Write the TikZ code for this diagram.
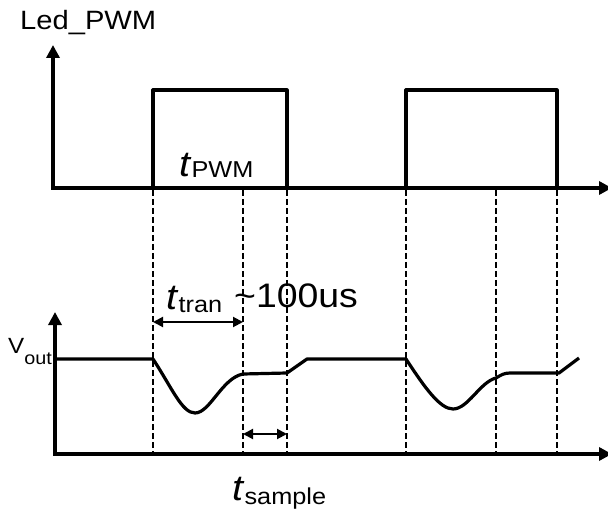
\documentclass[tikz,border=0pt]{standalone}
\usepackage{fontspec}
\setmainfont[FakeStretch=1.1]{Liberation Sans}
\usetikzlibrary{arrows.meta}
\newcommand{\fsz}[1]{\fontsize{#1}{#1}\selectfont}

\begin{document}
\begin{tikzpicture}[x=1pt, y=-1pt,
		axis/.style={line width=4pt, {Triangle[length=13pt,width=13pt]}-{Triangle[length=13pt,width=13pt]}},
		wave/.style={line width=3.2pt, line join=round},
		guide/.style={line width=2pt, dash pattern=on 6pt off 3pt},
		dimline/.style={line width=2pt, {Triangle[length=10pt,width=10pt]}-{Triangle[length=10pt,width=10pt]}},
		lbl/.style={inner sep=0pt, anchor=base west},
	]
	\useasboundingbox (0,0) rectangle (608,513);

	% --- Punti di riferimento ---
	\coordinate (o1) at (53,188);
	\coordinate (o2) at (55,454);
	\coordinate (rise1) at (153,188);
	\coordinate (samp1) at (243,188);
	\coordinate (fall1) at (287,188);
	\coordinate (rise2) at (406,188);
	\coordinate (samp2) at (496,188);
	\coordinate (fall2) at (557,188);
	\coordinate (lowend) at (0,452);
	\coordinate (tranrow) at (0,322);
	\coordinate (samprow) at (0,434);

	% --- Assi ---
	\draw [axis] (53,45) -- (o1) -- (612,188);
	\draw [axis] (55,312) -- (o2) -- (612,454);

	% --- Impulsi PWM ---
	\draw [wave] (rise1) -- (153,90) -- (287,90) -- (fall1);
	\draw [wave] (rise2) -- (406,90) -- (557,90) -- (fall2);

	% --- Linee guida tratteggiate ---
	\draw [guide] (rise1) ++(0,2) -- (rise1 |- lowend);
	\draw [guide] (samp1) ++(0,2) -- (samp1 |- lowend);
	\draw [guide] (fall1) ++(0,2) -- (fall1 |- lowend);
	\draw [guide] (rise2) ++(0,2) -- (rise2 |- lowend);
	\draw [guide] (samp2) ++(0,2) -- (samp2 |- lowend);
	\draw [guide] (fall2) ++(0,2) -- (fall2 |- lowend);

	% --- Tensione di uscita ---
	\draw [wave] (55,359) -- (153,359)
		.. controls (172,388) and (182,413) .. (195,413)
		.. controls (210,413) and (222,378) .. (243,374)
		-- (287,373) -- (307,359) -- (406,359)
		.. controls (425,388) and (440,409) .. (453,409)
		.. controls (468,409) and (480,382) .. (496,378)
		.. controls (501,375) and (504,373) .. (510,373)
		-- (559,373) -- (579,358);

	% --- Quote ---
	\draw [dimline] (rise1 |- tranrow) -- (samp1 |- tranrow);
	\draw [dimline] (samp1 |- samprow) -- (fall1 |- samprow);

	% --- Etichette ---
	\node (ledlbl) [lbl] at (20,30) {\fsz{26.5}Led\_PWM};
	\node (tpwm)   [lbl] at (179,177) {\fsz{36}\textit{t}\fsz{23}\raisebox{-1pt}{PWM}};
	\node (ttran)  [lbl] at (166,309) {\fsz{36}\textit{t}\fsz{23}\raisebox{-3pt}{tran}};
	\node (tdelay) [lbl] at (234,307) {\fsz{34}\textasciitilde 100us};
	\node (vlbl)   [lbl] at (8,353)   {\fsz{22}V\fsz{18}\raisebox{-11pt}{out}};
	\node (tsamp)  [lbl] at (232,500) {\fsz{36}\textit{t}\fsz{23}\raisebox{-4pt}{sample}};

\end{tikzpicture}
\end{document}
